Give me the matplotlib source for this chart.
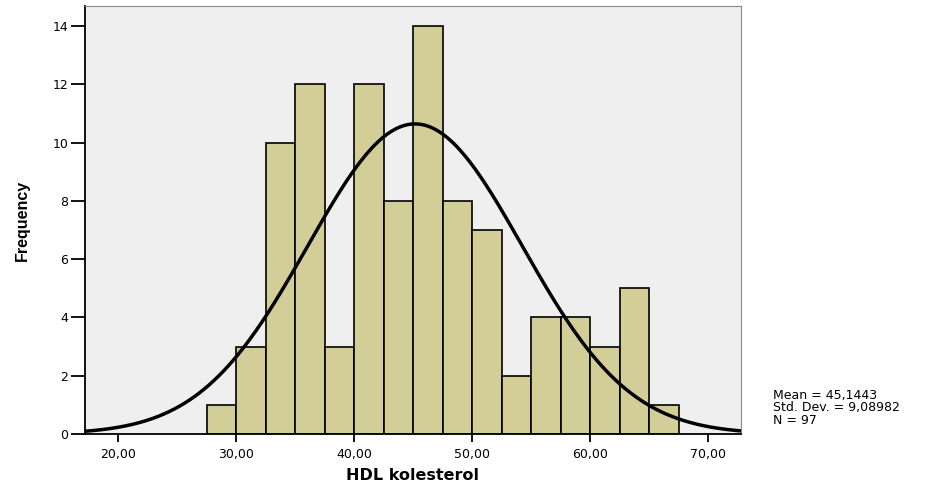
import numpy as np
from matplotlib import pyplot as plt

plt.rcParams['font.family'] = ['DejaVu Sans']

# histogram of HDL kolesterol (bin width 2.5)
bin_edges = [27.5, 30.0, 32.5, 35.0, 37.5, 40.0, 42.5, 45.0, 47.5, 50.0,
             52.5, 55.0, 57.5, 60.0, 62.5, 65.0, 67.5]
counts = [1, 3, 10, 12, 3, 12, 8, 14, 8, 7, 2, 4, 4, 3, 5, 1]
mean = 45.1443
std = 9.08982
n = 97
xticks = [20, 30, 40, 50, 60, 70]
xtick_labels = ['20,00', '30,00', '40,00', '50,00', '60,00', '70,00']
yticks = [0, 2, 4, 6, 8, 10, 12, 14]

fig = plt.figure(figsize=(9.38, 4.91), dpi=100)
ax = fig.add_axes([0.0906, 0.1161, 0.699, 0.8717])
ax.set_facecolor('#efefef')

lefts = bin_edges[:-1]
widths = np.diff(bin_edges)
ax.bar(lefts, counts, width=widths, align='edge', color='#d3ce97',
       edgecolor='black', linewidth=1.2, zorder=2)

# normal curve scaled to the histogram
xs = np.linspace(17.0, 73.0, 400)
bw = widths[0]
ys = n * bw / (std * np.sqrt(2 * np.pi)) * np.exp(-0.5 * ((xs - mean) / std) ** 2)
ax.plot(xs, ys, color='black', linewidth=2.5, zorder=3)

ax.set_xlim(17.17, 72.75)
ax.set_ylim(0, 14.69)
ax.set_xticks(xticks)
ax.set_xticklabels(xtick_labels)
ax.set_yticks(yticks)
ax.tick_params(axis='x', direction='out', length=6, width=1.3, labelsize=9, pad=4)
ax.tick_params(axis='y', direction='out', length=10, width=1.3, labelsize=9, pad=2)

for side in ['top', 'right']:
    ax.spines[side].set_color('#888888')
for side in ['left', 'bottom']:
    ax.spines[side].set_color('black')
    ax.spines[side].set_linewidth(1.3)

ax.set_xlabel('HDL kolesterol', fontsize=11.5, fontweight='bold', labelpad=5)
ax.set_ylabel('Frequency', fontsize=11.5, fontweight='bold', labelpad=16,
              family='Liberation Sans')

fig.text(773 / 938, 1 - 408 / 491,
         f'Mean = 45,1443\nStd. Dev. = 9,08982\nN = {n}',
         fontsize=9, va='center', ha='left', linespacing=0.95)

fig.savefig('out.png', dpi=100)
